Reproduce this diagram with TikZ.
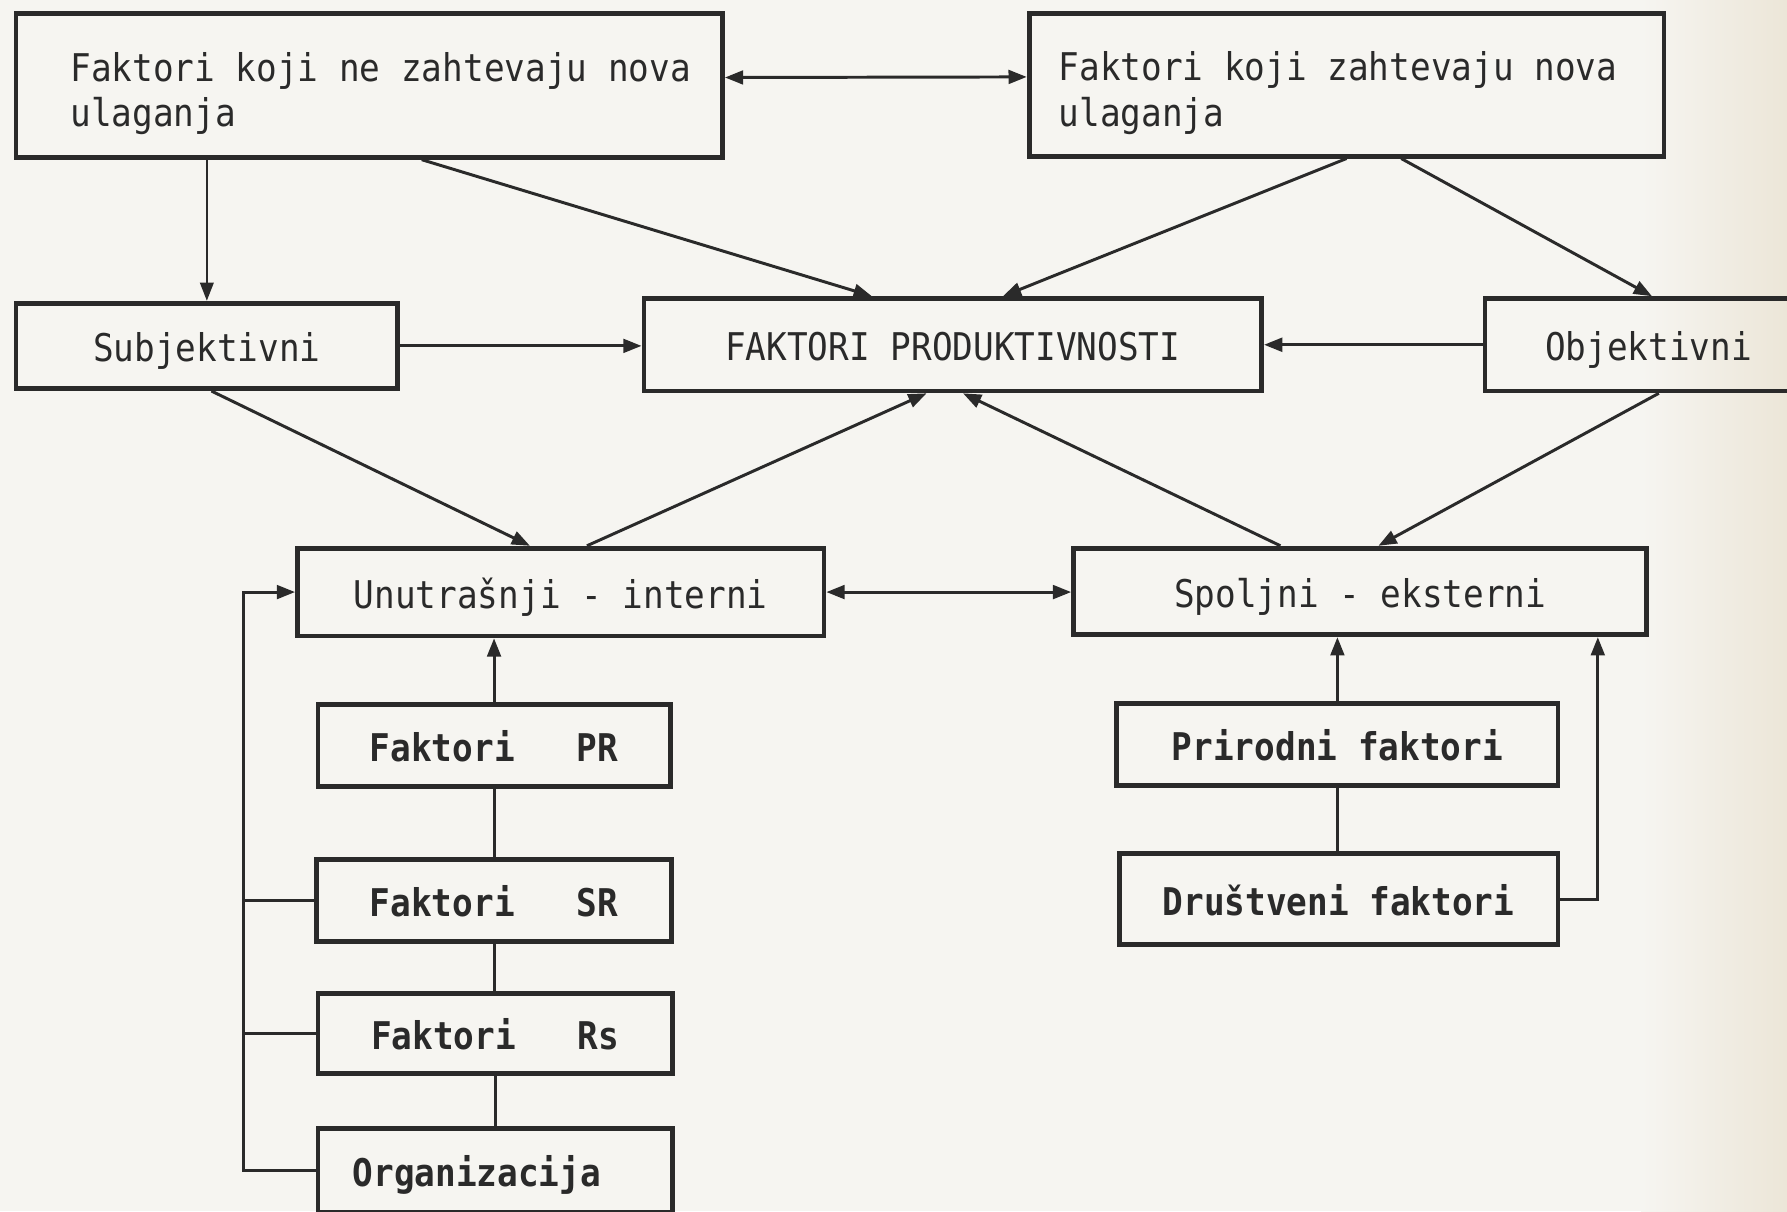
\documentclass[tikz,border=0pt]{standalone}
\usepackage{fontspec}
\setmainfont{DejaVu Sans Mono}[FakeStretch=0.9]
\usetikzlibrary{arrows.meta,calc}
\definecolor{ink}{HTML}{2A2A2A}
\definecolor{paper}{HTML}{F6F5F1}
\definecolor{paperR}{HTML}{ECE6D8}
\begin{document}
\begin{tikzpicture}[x=1pt,y=-1pt,
 box/.style={draw=ink, line width=4.2pt, inner sep=0pt, text=ink, font=\fontsize{33.5}{40}\selectfont},
 one/.style={box, text height=30pt, text depth=2pt},
 bbox/.style={one, font=\fontsize{33.5}{40}\selectfont\bfseries},
 conn/.style={draw=ink, line width=2.6pt},
 thinconn/.style={draw=ink, line width=1.7pt},
 tip/.tip={Triangle[length=16pt,width=12pt]},
 arr/.style={conn, -tip},
 darr/.style={conn, tip-tip},
]
\fill[paper] (0,0) rectangle (1568,1063);
\shade[left color=paper, right color=paperR] (1440,0) rectangle (1568,1063);
\useasboundingbox (0,0) rectangle (1568,1063);
\clip (0,0) rectangle (1568,1063);

% top row
\node[box, minimum width=620pt, minimum height=126pt, align=left] (A) at (324,75)
  {\rule{0pt}{40pt}\hspace*{20pt}Faktori koji ne zahtevaju nova\\\hspace*{20pt}ulaganja};
\node[box, minimum width=557pt, minimum height=125pt, align=left] (B) at (1181.5,74.5)
  {\rule{0pt}{40pt}Faktori koji zahtevaju nova\hspace*{15pt}\\ulaganja};

% middle row
\node[one, minimum width=335pt, minimum height=75pt] (Subj) at (181.5,303.5) {Subjektivni};
\node[one, minimum width=542pt, minimum height=81pt] (FP) at (836,302.5) {FAKTORI PRODUKTIVNOSTI};
\node[one, minimum width=287pt, minimum height=81pt] (Obj) at (1446.5,302.5) {Objektivni};

% internal / external
\node[one, minimum width=462pt, minimum height=77pt] (Unu) at (492,519.5) {Unutrašnji - interni};
\node[one, minimum width=503pt, minimum height=76pt] (Spo) at (1193.5,519) {Spoljni - eksterni};

% left column
\node[bbox, minimum width=309pt, minimum height=72pt] (PR) at (433.5,654) {Faktori\ \ \ PR};
\node[bbox, minimum width=311pt, minimum height=72pt] (SR) at (433.5,790) {Faktori\ \ \ SR};
\node[bbox, minimum width=311pt, minimum height=70pt] (Rs) at (434.5,907) {Faktori\ \ \ Rs};
\node[bbox, minimum width=311pt, minimum height=74pt] (Org) at (434.5,1027) {Organizacija\hspace*{32pt}};

% right column
\node[bbox, minimum width=387pt, minimum height=72pt] (Pri) at (1173.5,653) {Prirodni faktori};
\node[bbox, minimum width=385pt, minimum height=80pt] (Dru) at (1174.5,789) {Društveni faktori};

\coordinate (lbus) at (214,0);
\coordinate (rbus) at (1402,0);

% connectors
\draw[darr] ([yshift=7pt]A.east) -- ([yshift=7pt]B.west);
\draw[thinconn, -tip] (Subj.north |- A.south) -- (Subj.north);
\draw[arr] ([xshift=46pt]A.south) -- ([xshift=-71pt]FP.north);
\draw[arr] (B.south) -- ([xshift=44pt]FP.north);
\draw[arr] ([xshift=48pt]B.south) -- ([xshift=3pt]Obj.north);
\draw[arr] (Subj.east) -- (Subj.east -| FP.west);
\draw[arr] (Obj.west) -- (Obj.west -| FP.east);
\draw[arr] ([xshift=4pt]Subj.south) -- ([xshift=-27pt]Unu.north);
\draw[arr] ([xshift=23pt]Unu.north) -- ([xshift=-23pt]FP.south);
\draw[arr] ([xshift=-70pt]Spo.north) -- ([xshift=9pt]FP.south);
\draw[arr] ([xshift=9pt]Obj.south) -- ([xshift=16pt]Spo.north);
\draw[darr] (Unu.east) -- (Unu.east -| Spo.west);

\draw[arr] (PR.north) -- (PR.north |- Unu.south);
\draw[conn] (PR.south) -- (PR.south |- SR.north);
\draw[conn] (SR.south) -- (SR.south |- Rs.north);
\draw[conn] (Rs.south) -- (Rs.south |- Org.north);

\draw[conn, -tip] (Org.west) -- (Org.west -| lbus) -- (lbus |- Unu.west) -- (Unu.west);
\draw[conn] (SR.west) -- (SR.west -| lbus);
\draw[conn] (Rs.west) -- (Rs.west -| lbus);

\draw[arr] (Pri.north) -- (Pri.north |- Spo.south);
\draw[conn] (Pri.south) -- (Pri.south |- Dru.north);
\draw[conn, -tip] (Dru.east) -- (Dru.east -| rbus) -- (rbus |- Spo.south);
\end{tikzpicture}
\end{document}
